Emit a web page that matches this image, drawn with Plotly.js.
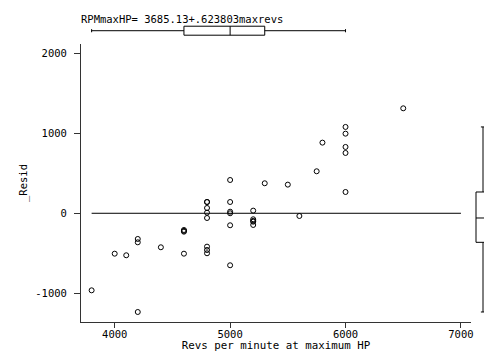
<!DOCTYPE html>
<html>
<head>
<meta charset="utf-8">
<script src="https://cdn.plot.ly/plotly-3.0.1.min.js"></script>
<style>html,body{margin:0;padding:0;background:#fff;}#chart{width:484px;height:352px;}</style>
</head>
<body>
<div id="chart"></div>
<script>
// Revs per minute at maximum HP
const rpm = [3800, 4000, 4100, 4200, 4200, 4200, 4400, 4600, 4600, 4600, 4600,
  4800, 4800, 4800, 4800, 4800, 4800, 4800, 4800,
  5000, 5000, 5000, 5000, 5000, 5000,
  5200, 5200, 5200, 5200, 5200,
  5300, 5500, 5600, 5750, 5800,
  6000, 6000, 6000, 6000, 6000, 6500];
// Residuals
const resid = [-963, -505, -525, -321, -363, -1234, -425, -209, -220, -230, -505,
  141, 141, 66, 8, -59, -417, -459, -500,
  416, 141, 20, 0, -150, -650,
  33, -75, -95, -105, -146,
  375, 358, -34, 525, 883,
  1079, 995, 829, 754, 266, 1312];
const xTicks = [4000, 5000, 6000, 7000];
const yTicks = [-1000, 0, 1000, 2000];
const titleText = 'RPMmaxHP= 3685.13+.623803maxrevs';
const xTitle = 'Revs per minute at maximum HP';
const yTitle = '_Resid';

const FONT = 'DejaVu Sans Mono, monospace';
const AX = '#333';

const traces = [
  {
    type: 'scatter', mode: 'markers', x: rpm, y: resid,
    xaxis: 'x', yaxis: 'y',
    marker: {symbol: 'circle-open', size: 5, color: '#000', line: {width: 1, color: '#000'}},
    hoverinfo: 'x+y'
  },
  {
    type: 'box', orientation: 'h', x: rpm, y0: 0,
    xaxis: 'x', yaxis: 'y2', quartilemethod: 'inclusive',
    boxpoints: 'outliers', width: 0.84, whiskerwidth: 0.35,
    fillcolor: 'rgba(255,255,255,0)',
    line: {color: '#000', width: 1},
    marker: {color: 'rgba(0,0,0,0)', size: 0, line: {width: 0}},
    hoverinfo: 'x'
  },
  {
    type: 'box', orientation: 'v', y: resid, x0: 0,
    xaxis: 'x3', yaxis: 'y', quartilemethod: 'inclusive',
    boxpoints: 'outliers', width: 1.4, whiskerwidth: 0.3,
    fillcolor: 'rgba(255,255,255,0)',
    line: {color: '#000', width: 1},
    marker: {color: 'rgba(0,0,0,0)', size: 0, line: {width: 0}},
    hoverinfo: 'y'
  }
];

const layout = {
  width: 484, height: 352,
  margin: {l: 81, r: 0, t: 0, b: 30, pad: 0},
  paper_bgcolor: '#fff', plot_bgcolor: '#fff',
  showlegend: false,
  font: {family: FONT, size: 10.5, color: '#000'},
  title: {
    text: titleText, font: {family: FONT, size: 10.5, color: '#000'},
    xref: 'container', yref: 'container', x: 81 / 484, xanchor: 'left',
    y: 1 - 19 / 352, yanchor: 'middle'
  },
  xaxis: {
    domain: [0, 0.9677], range: [3708, 7087], anchor: 'y',
    tickvals: xTicks, ticktext: xTicks.map(String),
    showline: true, linecolor: AX, linewidth: 1,
    ticks: 'outside', ticklen: 5, tickcolor: AX, tickwidth: 1,
    ticklabelstandoff: -3,
    showgrid: false, zeroline: false,
    tickfont: {family: FONT, size: 10.5, color: '#000'},
    title: {text: xTitle, standoff: 0, font: {family: FONT, size: 10.8, color: '#000'}}
  },
  yaxis: {
    domain: [0, 0.8634], range: [-1359, 2116], anchor: 'x',
    tickvals: yTicks, ticktext: yTicks.map(String),
    showline: true, linecolor: AX, linewidth: 1,
    ticks: 'outside', ticklen: 6, tickcolor: AX, tickwidth: 1,
    ticklabelstandoff: 5,
    showgrid: false, zeroline: false,
    tickfont: {family: FONT, size: 10.5, color: '#000'},
    title: {text: yTitle, standoff: 5, font: {family: FONT, size: 10.5, color: '#000'}}
  },
  yaxis2: {
    domain: [0.8714, 0.9379], range: [-1, 1], anchor: 'x',
    visible: false, showgrid: false, zeroline: false
  },
  xaxis3: {
    domain: [0.97, 1], range: [-1.11, 0.1], anchor: 'y',
    visible: false, showgrid: false, zeroline: false
  },
  shapes: [{
    type: 'line', xref: 'x', yref: 'y',
    x0: Math.min(...rpm), x1: xTicks[xTicks.length - 1], y0: 0, y1: 0,
    line: {color: '#000', width: 1}
  }]
};

Plotly.newPlot('chart', traces, layout, {staticPlot: true, displayModeBar: false});
</script>
</body>
</html>
